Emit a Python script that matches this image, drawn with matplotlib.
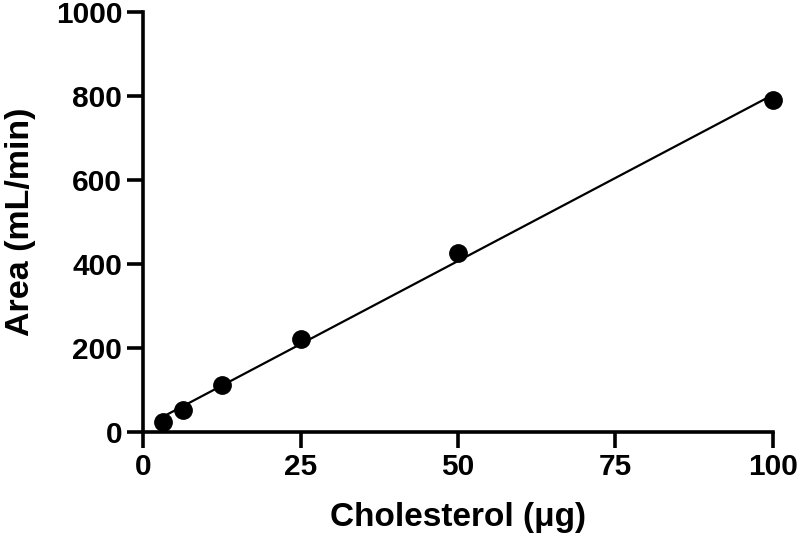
import numpy as np
import matplotlib
matplotlib.use("Agg")
import matplotlib.pyplot as plt

# Messwerte
cholesterol = [3.125, 6.25, 12.5, 25, 50, 100]
area = [24, 53, 112, 221, 426, 791]

plt.rcParams["font.family"] = ["Liberation Sans", "DejaVu Sans"]
plt.rcParams["font.weight"] = "bold"

fig = plt.figure(figsize=(8, 5.43), dpi=100)
ax = fig.add_axes([0.179, 0.2044, 0.787, 0.7735])

# lineare Regression
slope, intercept = np.polyfit(cholesterol, area, 1)
xs = np.array([min(cholesterol), max(cholesterol)])
ax.plot(xs, slope * xs + intercept, color="black", linewidth=1.6, zorder=2)
ax.plot(cholesterol, area, "o", color="black", markersize=12.5, zorder=3,
        clip_on=False)

ax.set_xlim(0, 100)
ax.set_ylim(0, 1000)
ax.set_xticks([0, 25, 50, 75, 100])
ax.set_yticks([0, 200, 400, 600, 800, 1000])

for side in ["top", "right"]:
    ax.spines[side].set_visible(False)
for side in ["left", "bottom"]:
    ax.spines[side].set_linewidth(2.6)

ax.tick_params(axis="both", direction="out", length=11.5, width=2.6,
               labelsize=21.5, pad=3.5)
for lbl in ax.get_xticklabels() + ax.get_yticklabels():
    lbl.set_fontweight("bold")

ax.set_xlabel("Cholesterol (\u03bcg)", fontsize=24, fontweight="bold",
              labelpad=15)
ax.set_ylabel("Area (mL/min)", fontsize=24.5, fontweight="bold", labelpad=14)

fig.savefig("out.png", dpi=100, facecolor="white")
